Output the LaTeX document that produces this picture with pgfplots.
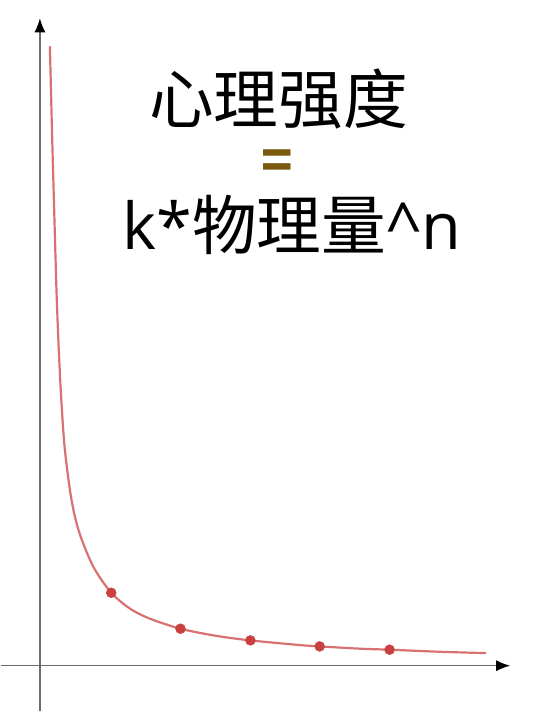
\documentclass[border=0pt]{standalone}
\usepackage{pgfplots}
\pgfplotsset{compat=1.18}
\usetikzlibrary{arrows.meta}
\usepackage{fontspec}
\newfontfamily\cjk{Noto Sans CJK SC}
\newfontfamily\lat{Open Sans}
\definecolor{curvec}{HTML}{D87272}
\definecolor{markc}{HTML}{C8413F}
\definecolor{eqc}{HTML}{7A5A0E}
\begin{document}
\begin{tikzpicture}
\begin{axis}[
  x=1bp, y=1bp,
  xmin=-39.3, xmax=470.7,
  ymin=-45.7, ymax=648,
  axis lines=middle,
  axis line style={draw=gray!85!black, line width=1.3bp, -{Latex[length=14bp,width=11bp,color=black]}},
  xtick=\empty, ytick=\empty,
  clip=false,
]
\path (axis cs:-39.3,-45.7) rectangle (axis cs:492.7,666.3);
\addplot[curvec, line width=2.2bp, smooth, tension=0.5, no markers] coordinates {
(10,620) (11.3,566) (12.6,516) (14,466) (15.4,416) (16.9,366) (18.9,316)
(21.4,266) (25,216) (31.6,166) (39.5,133) (53.5,99) (71.4,73) (90.5,56.9)
(110.7,46.8) (140.7,37) (175.7,30) (210.7,25.3) (260.7,20.6) (280,19.3)
(320.7,17.0) (350,16) (400.7,13.9) (446.7,12.6)
};
\addplot[only marks, mark=*, mark size=5bp, markc, mark options={draw=markc, fill=markc}] coordinates {
(71.4,73) (140.7,37) (210.7,25.3) (280,19.3) (350,16)
};
\node[font={\cjk\fontsize{65}{72}\selectfont}, inner sep=0pt] at (axis cs:238.7,567) {心理强度};
\node[font={\cjk\bfseries\fontsize{52}{60}\selectfont}, text=eqc, inner sep=0pt] at (axis cs:237.7,502) {=};
\node[font={\cjk\fontsize{65}{72}\selectfont}, inner sep=0pt] at (axis cs:252,441.3) {{\lat k*}物理量{\lat\^{}n}};
\end{axis}
\end{tikzpicture}
\end{document}
